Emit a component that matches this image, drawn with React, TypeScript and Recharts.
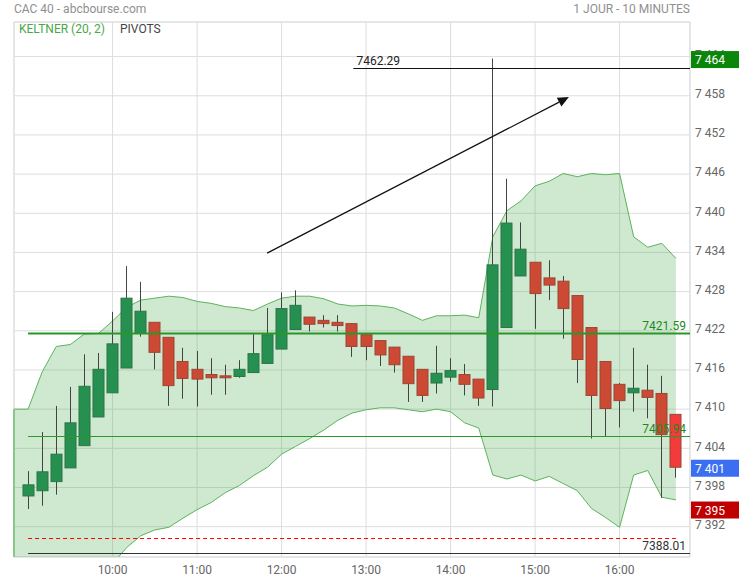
import {
  ComposedChart,
  Bar,
  Area,
  XAxis,
  YAxis,
  CartesianGrid,
  ReferenceLine,
  ReferenceArea,
} from 'recharts';

const FONT = 'Roboto, "Noto Sans", sans-serif';

// 10-minute candles, 09:00 -> 16:40
const opens = [
  7396.7, 7397.5, 7398.9, 7401.0, 7404.4, 7408.8, 7412.5, 7416.3, 7421.6, 7423.3,
  7421.0, 7417.3, 7416.1, 7415.3, 7415.1, 7415.0, 7415.6, 7417.0, 7419.2, 7422.2,
  7424.1, 7423.6, 7423.3, 7423.1, 7421.4, 7420.5, 7419.5, 7418.1, 7416.1, 7414.0,
  7414.9, 7415.3, 7414.6, 7413.0, 7422.5, 7430.4, 7432.5, 7430.1, 7429.6, 7427.4,
  7422.5, 7417.3, 7413.8, 7412.5, 7412.9, 7412.4, 7409.2,
];
const highs = [
  7400.5, 7406.5, 7410.5, 7413.4, 7418.4, 7418.6, 7424.9, 7431.9, 7429.5, 7423.3,
  7421.0, 7419.4, 7418.9, 7417.8, 7416.8, 7417.5, 7421.5, 7425.5, 7427.9, 7428.2,
  7424.1, 7424.4, 7424.4, 7423.1, 7421.4, 7420.5, 7419.5, 7418.1, 7416.1, 7419.7,
  7417.8, 7416.9, 7414.6, 7463.7, 7445.3, 7438.6, 7432.5, 7432.8, 7430.4, 7427.4,
  7422.5, 7417.3, 7414.0, 7419.4, 7416.8, 7415.1, 7409.2,
];
const lows = [
  7394.7, 7395.2, 7396.9, 7401.0, 7404.4, 7408.8, 7412.5, 7416.3, 7421.1, 7416.1,
  7410.5, 7411.6, 7410.4, 7412.2, 7412.2, 7414.8, 7415.6, 7417.0, 7419.2, 7422.2,
  7421.9, 7422.5, 7421.9, 7418.0, 7417.5, 7416.6, 7415.6, 7411.1, 7411.1, 7412.4,
  7414.2, 7412.1, 7410.5, 7410.4, 7422.5, 7430.4, 7422.3, 7426.7, 7420.8, 7414.0,
  7405.5, 7405.8, 7407.2, 7409.6, 7408.6, 7396.4, 7399.5,
];
const closes = [
  7398.4, 7400.4, 7403.1, 7407.9, 7413.5, 7416.1, 7420.0, 7427.0, 7425.0, 7418.7,
  7413.6, 7414.7, 7414.6, 7414.8, 7414.8, 7416.1, 7418.5, 7421.4, 7425.4, 7425.9,
  7423.0, 7423.1, 7422.8, 7419.6, 7419.6, 7418.3, 7416.8, 7413.9, 7412.1, 7415.5,
  7415.9, 7413.8, 7411.7, 7432.1, 7438.5, 7434.5, 7427.7, 7429.0, 7425.4, 7417.6,
  7412.1, 7410.1, 7411.3, 7413.2, 7411.8, 7406.1, 7401.1,
];

// Keltner (20, 2); first value sits one slot before the open
const keltnerUpper = [
  7410.0, 7410.0, 7415.7, 7419.6, 7419.9, 7421.5, 7421.6, 7423.5, 7425.6, 7426.7,
  7427.0, 7427.3, 7427.1, 7426.5, 7426.2, 7425.7, 7425.5, 7425.1, 7426.1, 7427.0,
  7427.3, 7427.3, 7426.9, 7426.1, 7425.8, 7425.9, 7425.8, 7425.5, 7424.6, 7423.6,
  7424.3, 7424.3, 7424.4, 7424.0, 7436.4, 7440.4, 7441.9, 7444.2, 7444.9, 7446.1,
  7445.6, 7446.1, 7445.9, 7446.1, 7436.4, 7434.8, 7435.4, 7433.1,
];
const keltnerLower = [
  7376.0, 7376.0, 7376.0, 7377.0, 7378.0, 7379.0, 7381.0, 7386.3, 7388.8, 7390.6,
  7391.5, 7391.9, 7393.3, 7394.6, 7395.7, 7397.2, 7398.3, 7399.8, 7401.1, 7403.1,
  7404.3, 7405.5, 7406.8, 7408.3, 7409.4, 7409.9, 7410.2, 7410.2, 7409.9, 7409.6,
  7410.0, 7409.6, 7407.9, 7407.1, 7399.9, 7399.3, 7399.9, 7399.0, 7399.7, 7398.6,
  7397.5, 7394.8, 7393.4, 7391.9, 7399.9, 7400.6, 7396.5, 7396.1,
];

const hourTicks = [6, 12, 18, 24, 30, 36, 42];
const hourLabels = ['10:00', '11:00', '12:00', '13:00', '14:00', '15:00', '16:00'];
const priceTicks = [7392, 7398, 7404, 7410, 7416, 7422, 7428, 7434, 7440, 7446, 7452, 7458, 7464];

const pivotLevels = [7462.29, 7421.59, 7405.94, 7388.01];
const dashedLevel = 7390.3;
const arrowFrom = { x: 16.97, y: 7433.9 };
const arrowTo = { x: 38.4, y: 7457.8 };

const X_DOMAIN = [-1, 47];
const Y_DOMAIN = [7387.35, 7469.3];

const dayHigh = Math.max(...highs);
const dayLow = Math.min(...lows);
const lastPrice = closes[closes.length - 1];

const data = keltnerUpper.map((u, k) => {
  const i = k - 1;
  const row: any = { i, band: [keltnerLower[k], u] };
  if (i >= 0) {
    row.open = opens[i];
    row.high = highs[i];
    row.low = lows[i];
    row.close = closes[i];
    row.range = [lows[i], highs[i]];
  }
  return row;
});

const fmtPrice = (v: number) => {
  const r = Math.round(v);
  return `${Math.floor(r / 1000)} ${String(r % 1000).padStart(3, '0')}`;
};

const Candle = (props: any) => {
  const { x, y, width, height, payload } = props;
  if (!payload || payload.open == null || !height) return null;
  const { open, close, high, low, i } = payload;
  const k = height / (high - low);
  const cx = Math.round(x + width / 2) - 0.5;
  const top = y + (high - Math.max(open, close)) * k;
  const bottom = y + (high - Math.min(open, close)) * k;
  const up = close >= open;
  const last = i === opens.length - 1;
  const fill = up ? '#25904f' : last ? '#f23b3b' : '#cc4a33';
  const stroke = up ? '#2c7547' : '#9c4536';
  return (
    <g>
      <line x1={cx} x2={cx} y1={y} y2={y + height} stroke="#444" strokeWidth={1} />
      <rect
        x={cx - 5.5}
        y={top}
        width={11}
        height={Math.max(bottom - top, 1.5)}
        fill={fill}
        stroke={stroke}
        strokeWidth={1}
      />
    </g>
  );
};

const badge = (text: string, color: string) => (p: any) => {
  const right = Math.max(p.x1, p.x2);
  return (
    <g>
      <rect x={right + 1} y={p.y1 - 7.5} width={48} height={17} fill={color} />
      <text x={right + 5} y={p.y1 + 5.5} fill="#fff" fontSize={12} fontFamily={FONT}>
        {text}
      </text>
    </g>
  );
};

const pivotLine =
  (label: string, color: string, textColor: string, w: number, anchor: 'start' | 'end', dash?: string) =>
  (p: any) => (
    <g>
      <line
        x1={p.x1}
        y1={Math.round(p.y1) + 0.5}
        x2={p.x2}
        y2={Math.round(p.y2) + 0.5}
        stroke={color}
        strokeWidth={w}
        strokeDasharray={dash}
      />
      {label && (
        <text
          x={anchor === 'end' ? p.x2 - 4 : p.x1 + 3}
          y={p.y1 - 3}
          textAnchor={anchor}
          fill={textColor}
          fontSize={12}
          fontFamily={FONT}
        >
          {label}
        </text>
      )}
    </g>
  );

const arrowShape = (p: any) => {
  const { x1, y1, x2, y2 } = p;
  const ang = Math.atan2(y2 - y1, x2 - x1);
  const len = 11;
  const half = 5;
  const bx = x2 - len * Math.cos(ang);
  const by = y2 - len * Math.sin(ang);
  const nx = -Math.sin(ang) * half;
  const ny = Math.cos(ang) * half;
  return (
    <g>
      <line x1={x1} y1={y1} x2={bx} y2={by} stroke="#111" strokeWidth={1.2} />
      <polygon points={`${x2},${y2} ${bx + nx},${by + ny} ${bx - nx},${by - ny}`} fill="#111" />
    </g>
  );
};

const textStyle = { position: 'absolute' as const, fontFamily: FONT, fontSize: 12, lineHeight: '14px', whiteSpace: 'nowrap' as const };

export default function App() {
  return (
    <div style={{ position: 'absolute', left: 0, top: 0, width: 739, height: 580, background: '#fff' }}>
      <ComposedChart
        width={739}
        height={580}
        data={data}
        margin={{ top: 22, right: 0, bottom: 0, left: 14 }}
      >
        <CartesianGrid stroke="#dddddd" />
        <XAxis
          dataKey="i"
          type="number"
          domain={X_DOMAIN}
          allowDataOverflow
          ticks={hourTicks}
          tickFormatter={(v: number) => hourLabels[hourTicks.indexOf(v)]}
          axisLine={false}
          tickLine={false}
          height={23}
          tickSize={6}
          tickMargin={2}
          tick={{ fill: '#666', fontSize: 12, fontFamily: FONT }}
        />
        <YAxis
          orientation="right"
          type="number"
          domain={Y_DOMAIN}
          allowDataOverflow
          ticks={priceTicks}
          tickFormatter={fmtPrice}
          axisLine={false}
          tickLine={false}
          width={49}
          tickSize={3}
          tickMargin={2}
          tick={{ fill: '#666', fontSize: 12, fontFamily: FONT, dy: -2 }}
        />
        <ReferenceArea
          x1={X_DOMAIN[0]}
          x2={X_DOMAIN[1]}
          y1={Y_DOMAIN[0]}
          y2={Y_DOMAIN[1]}
          fill="none"
          stroke="#dddddd"
        />
        <Area
          dataKey="band"
          type="linear"
          stroke="#5cb35c"
          strokeWidth={1}
          fill="#4caf50"
          fillOpacity={0.27}
          isAnimationActive={false}
          dot={false}
          activeDot={false}
        />
        <ReferenceLine
          segment={[
            { x: X_DOMAIN[0], y: keltnerUpper[0] },
            { x: X_DOMAIN[0], y: Y_DOMAIN[0] },
          ]}
          stroke="#8cc48c"
          strokeWidth={2}
        />
        <ReferenceLine
          segment={[{ x: 0, y: dashedLevel }, { x: opens.length - 1, y: dashedLevel }]}
          shape={pivotLine('', '#ff0000', '#ff0000', 1, 'end', '4 3')}
        />
        <ReferenceLine
          segment={[{ x: 0, y: pivotLevels[3] }, { x: X_DOMAIN[1], y: pivotLevels[3] }]}
          shape={pivotLine(pivotLevels[3].toFixed(2), '#333', '#333', 1, 'end')}
        />
        <ReferenceLine
          segment={[{ x: 0, y: pivotLevels[2] }, { x: X_DOMAIN[1], y: pivotLevels[2] }]}
          shape={pivotLine(pivotLevels[2].toFixed(2), '#2a992a', '#1e8a1e', 1, 'end')}
        />
        <ReferenceLine
          segment={[{ x: 0, y: pivotLevels[1] }, { x: X_DOMAIN[1], y: pivotLevels[1] }]}
          shape={pivotLine(pivotLevels[1].toFixed(2), '#2a962a', '#1e8a1e', 2, 'end')}
        />
        <ReferenceLine
          segment={[{ x: 23.1, y: pivotLevels[0] }, { x: X_DOMAIN[1], y: pivotLevels[0] }]}
          shape={pivotLine(pivotLevels[0].toFixed(2), '#111', '#222', 1, 'start')}
        />
        <ReferenceLine segment={[arrowFrom, arrowTo]} shape={arrowShape} />
        <Bar
          dataKey="range"
          barSize={11}
          isAnimationActive={false}
          shape={(p: any) => <Candle {...p} />}
        />
        <ReferenceLine zIndex={2000} y={dayHigh} shape={badge(fmtPrice(dayHigh), '#0a860a')} />
        <ReferenceLine zIndex={2000} y={lastPrice} shape={badge(fmtPrice(lastPrice), '#3a6ff2')} />
        <ReferenceLine zIndex={2000} y={dayLow} shape={badge(fmtPrice(dayLow), '#c00000')} />
      </ComposedChart>
      <div style={{ ...textStyle, left: 14, top: 2, color: '#8f8f8f' }}>CAC 40 - abcbourse.com</div>
      <div style={{ ...textStyle, right: 739 - 690, top: 2, color: '#8f8f8f' }}>1 JOUR - 10 MINUTES</div>
      <div style={{ ...textStyle, left: 19, top: 22, color: '#48a848' }}>KELTNER (20, 2)</div>
      <div style={{ ...textStyle, left: 120, top: 22, color: '#444' }}>PIVOTS</div>
    </div>
  );
}
